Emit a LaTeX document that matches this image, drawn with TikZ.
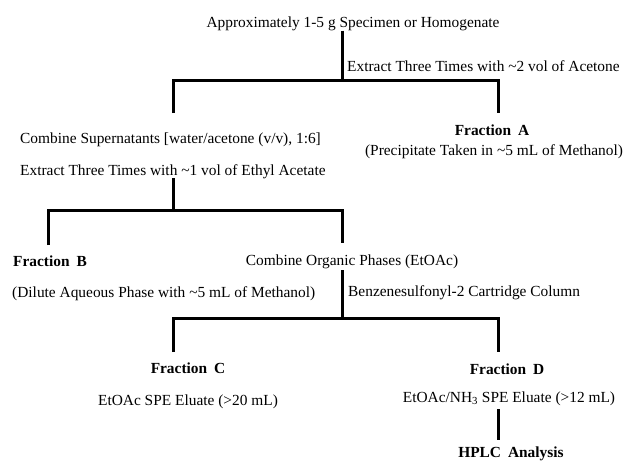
\documentclass[tikz,border=0pt]{standalone}
\usepackage{fontspec}
\setmainfont{Liberation Serif}
\begin{document}
\begin{tikzpicture}[x=1pt,y=-1pt,
  txt/.style={inner sep=0pt,font=\fontsize{15.4}{18}\selectfont},
  hd/.style={inner sep=0pt,font=\fontsize{15.4}{18}\selectfont\bfseries},
  conn/.style={line width=3pt,black}]
\useasboundingbox (0,0) rectangle (624,461);
% texts
\node[txt,anchor=base] (title) at (353,27) {Approximately 1-5 g Specimen or Homogenate};
\node[txt,anchor=base west] (ex1) at (347,71) {Extract Three Times with \textasciitilde2 vol of Acetone};
\node[txt,anchor=base west] (cs) at (20,143) {Combine Supernatants [water/acetone (v/v), 1:6]};
\node[hd,anchor=base] (fa) at (492,135) {Fraction\hspace{0.45em}A};
\node[txt,anchor=base] (pa) at (494,155) {(Precipitate Taken in \textasciitilde5 mL of Methanol)};
\node[txt,anchor=base west] (ex2) at (20,175) {Extract Three Times with \textasciitilde1 vol of Ethyl Acetate};
\node[hd,anchor=base west] (fb) at (13,266) {Fraction\hspace{0.45em}B};
\node[txt,anchor=base] (co) at (352,265) {Combine Organic Phases (EtOAc)};
\node[txt,anchor=base west] (da) at (12,297) {(Dilute Aqueous Phase with \textasciitilde5 mL of Methanol)};
\node[txt,anchor=base west] (bz) at (348,296) {Benzenesulfonyl-2 Cartridge Column};
\node[hd,anchor=base] (fc) at (188,373) {Fraction\hspace{0.45em}C};
\node[hd,anchor=base] (fd) at (507,374) {Fraction\hspace{0.45em}D};
\node[txt,anchor=base] (ec) at (188,405) {EtOAc SPE Eluate (>20 mL)};
\node[txt,anchor=base] (ed) at (509,402) {EtOAc/NH\textsubscript{3} SPE Eluate (>12 mL)};
\node[hd,anchor=base] (hp) at (511,457) {HPLC\hspace{0.45em}Analysis};
% junctions
\coordinate (j1) at (342,80);
\coordinate (l1) at (173,113);
\coordinate (r1) at (498,113);
\coordinate (t2) at (173,178);
\coordinate (j2) at (173,210);
\coordinate (l2) at (48,245);
\coordinate (r2) at (342,243);
\coordinate (t3) at (342,270);
\coordinate (j3) at (342,318);
\coordinate (l3) at (173,352);
\coordinate (r3) at (498,352);
\coordinate (t4) at (498,409);
\coordinate (b4) at (498,440);
% connectors
\draw[conn] (title.south -| j1) -- (j1);
\draw[conn] (l1) |- (j1) -| (r1);
\draw[conn] (t2) -- (j2);
\draw[conn] (l2) |- (j2) -| (r2);
\draw[conn] (t3) -- (j3);
\draw[conn] (l3) |- (j3) -| (r3);
\draw[conn] (t4) -- (b4);
\end{tikzpicture}
\end{document}
